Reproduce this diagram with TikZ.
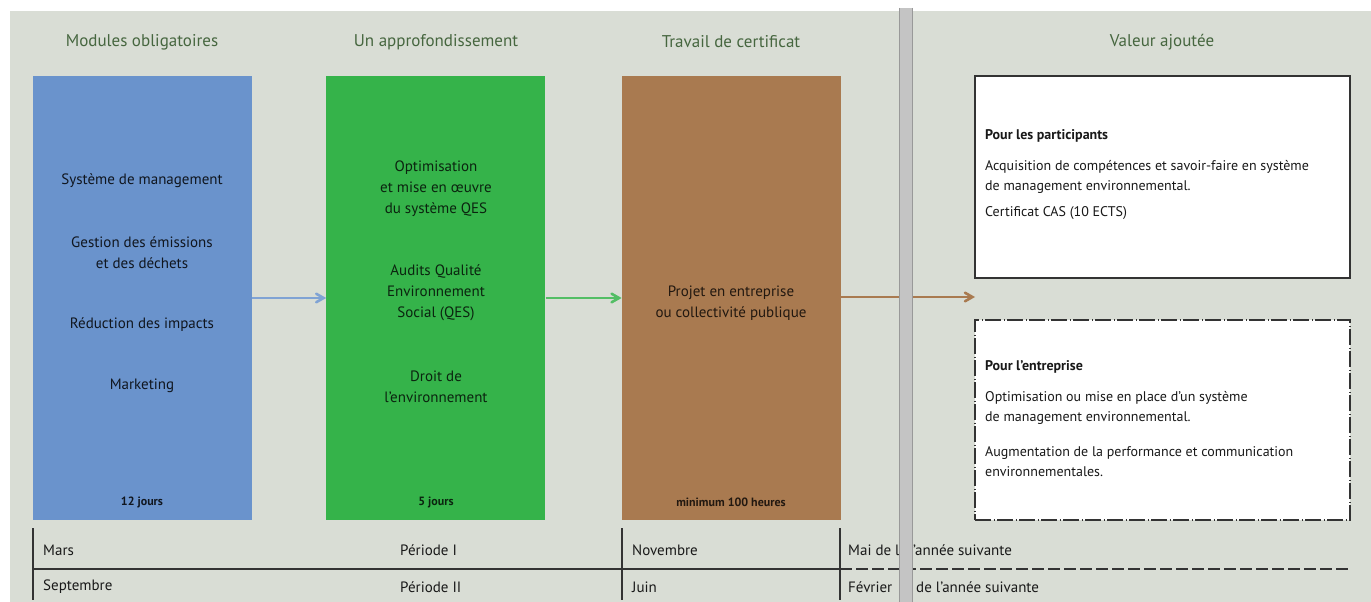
\documentclass[tikz,border=0pt]{standalone}
\usepackage{fontspec}
\setmainfont{PT Sans}
\usetikzlibrary{arrows, positioning}

\definecolor{bggray}{HTML}{D9DDD5}
\definecolor{modblue}{HTML}{6A93CC}
\definecolor{appgreen}{HTML}{35B34A}
\definecolor{travbrown}{HTML}{A97A50}
\definecolor{titlegreen}{HTML}{46663F}
\definecolor{bargray}{HTML}{C4C4C4}

\begin{document}
\begin{tikzpicture}[x=1pt, y=-1pt,
  colbox/.style={rectangle, minimum width=219pt, minimum height=444pt, inner sep=0pt},
  valbox/.style={rectangle, minimum width=375pt, fill=white, inner sep=0pt, line width=1.3pt, draw=black!80},
  coltitle/.style={font=\fontsize{17}{20}\selectfont, text=titlegreen},
  boxtext/.style={font=\fontsize{15}{21}\selectfont, align=center, inner sep=0pt},
  durtext/.style={font=\bfseries\fontsize{12}{14}\selectfont, inner sep=0pt},
  valtext/.style={font=\fontsize{14}{20}\selectfont, align=left, anchor=west, inner sep=0pt, text=black!90},
  rowtext/.style={font=\fontsize{15}{18}\selectfont, anchor=west, inner sep=0pt, text=black!90},
  tablerule/.style={line width=1.2pt, black!80},
  arrow/.style={line width=2.6pt,->,>=angle 60}]

  \useasboundingbox (0,0) rectangle (1371,602);
  \fill[bggray] (10,11) rectangle (1371,602);

  % Column titles
  \node (tmod) [coltitle] at (142,42) {Modules obligatoires};
  \node (tapp) [coltitle] at (436,42) {Un approfondissement};
  \node (ttrav) [coltitle] at (731,42) {Travail de certificat};
  \node (tval) [coltitle] at (1162,42) {Valeur ajoutée};

  % Nodes
  \node (modules) [colbox, fill=modblue] at (142.5,298) {};
  \node (approf) [colbox, fill=appgreen, right=74pt of modules] {};
  \node (travail) [colbox, fill=travbrown, right=76pt of approf] {};

  \node (particip) [valbox, minimum height=202pt] at (1162.5,177) {};
  \node (entreprise) [valbox, minimum height=200pt, line width=1.1pt, dash pattern=on 16pt off 2.5pt on 1pt off 2.5pt] at (1162.5,420) {};
  \coordinate (valeur) at (975,297);

  % Box texts
  \node (m1) [boxtext, text=modblue!15!black] at (142,181) {Système de management};
  \node (m2) [boxtext, text=modblue!15!black] at (142,252.5) {Gestion des émissions\\et des déchets};
  \node (m3) [boxtext, text=modblue!15!black] at (142,325) {Réduction des impacts};
  \node (m4) [boxtext, text=modblue!15!black] at (142,386) {Marketing};
  \node (mdur) [durtext, text=modblue!15!black] at (142,502) {12 jours};

  \node (a1) [boxtext, text=appgreen!20!black] at (436,189) {Optimisation\\et mise en œuvre\\du système QES};
  \node (a2) [boxtext, text=appgreen!20!black] at (436,293) {Audits Qualité\\Environnement\\Social (QES)};
  \node (a3) [boxtext, text=appgreen!20!black] at (436,386.5) {Droit de\\l'environnement};
  \node (adur) [durtext, text=appgreen!20!black] at (436,502) {5 jours};

  \node (t1) [boxtext, text=travbrown!20!black] at (731,303) {Projet en entreprise\\ou collectivité publique};
  \node (tdur) [durtext, text=travbrown!20!black] at (731,502) {minimum 100 heures};

  \node (p1) [valtext, font=\bfseries\fontsize{14}{20}\selectfont] at (985,136) {Pour les participants};
  \node (p2) [valtext] at (985,176.5) {Acquisition de compétences et savoir-faire en système\\de management environnemental.};
  \node (p3) [valtext] at (985,213) {Certificat CAS (10 ECTS)};

  \node (e1) [valtext, font=\bfseries\fontsize{14}{20}\selectfont] at (985,367) {Pour l'entreprise};
  \node (e2) [valtext] at (985,407.5) {Optimisation ou mise en place d'un système\\de management environnemental.};
  \node (e3) [valtext] at (985,461.5) {Augmentation de la performance et communication\\environnementales.};

  % Arrows
  \draw [arrow, modblue!85!white] (modules) -- (approf);
  \draw [arrow, appgreen!85!white] (approf) -- (travail);
  \draw [arrow, travbrown] (travail.east |- valeur) -- (valeur);

  % Calendar
  \draw [tablerule] (33,528) -- (33,600);
  \draw [tablerule] (622,528) -- (622,600);
  \draw [tablerule] (840,528) -- (840,600);
  \draw [tablerule] (33,569) -- (840,569);
  \draw [tablerule, dash pattern=on 12pt off 4pt] (840,569) -- (1350,569);

  \node (r1a) [rowtext] at (43,550) {Mars};
  \node (r1b) [rowtext] at (400,550) {Période I};
  \node (r1c) [rowtext] at (632,550) {Novembre};
  \node (r1d) [rowtext] at (848,550) {Mai de l};
  \node (r1e) [rowtext] at (913,550) {'année suivante};

  \node (r2a) [rowtext] at (43,587) {Septembre};
  \node (r2b) [rowtext] at (400,587) {Période II};
  \node (r2c) [rowtext] at (632,587) {Juin};
  \node (r2d) [rowtext] at (848,587) {Février};
  \node (r2e) [rowtext] at (916,587) {de l'année suivante};

  % Separator
  \fill [bargray] (899,8) rectangle (912,602);
  \draw [black!40, line width=0.8pt] (899,8) -- (899,602);
  \draw [black!40, line width=0.8pt] (912,8) -- (912,602);
\end{tikzpicture}
\end{document}
